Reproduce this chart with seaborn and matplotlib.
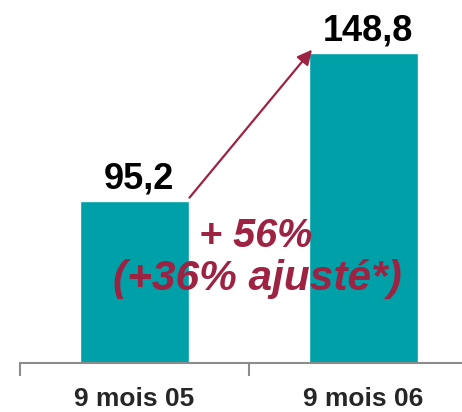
import matplotlib
matplotlib.use("Agg")
import matplotlib.pyplot as plt
import seaborn as sns
import pandas as pd

# chart data
periods = ["9 mois 05", "9 mois 06"]
values = [95.2, 148.8]
value_labels = ["95,2", "148,8"]
growth_main = "+ 56%"
growth_adjusted = "(+36% ajusté*)"

bar_color = "#00A0A8"
accent = "#9E2242"
axis_grey = "#8C8C8C"

sns.set_theme(style="white")
plt.rcParams["font.family"] = ["Liberation Sans", "DejaVu Sans"]

df = pd.DataFrame({"period": periods, "value": values})

fig = plt.figure(figsize=(4.62, 4.12), dpi=100)
ax = fig.add_axes([20 / 462, 49 / 412, 442 / 462, 363 / 412])

sns.barplot(data=df, x="period", y="value", color=bar_color, width=0.48,
            saturation=1, ax=ax)

# value labels on top of bars
for i, (v, lab) in enumerate(zip(values, value_labels)):
    ax.text(i + 0.02, v + 4.4, lab, ha="center", va="baseline",
            fontsize=26, fontweight="bold", color="black")

# growth arrow from the first bar to the second
ax.annotate("", xy=(1 - 0.225, values[1] + 1.2), xytext=(0 + 0.24, values[0] + 1.2),
            arrowprops=dict(arrowstyle="-|>", color=accent, lw=1.6,
                            mutation_scale=22, shrinkA=0, shrinkB=0))

ax.text(0.534, 0.32, growth_main, transform=ax.transAxes, ha="center",
        va="baseline", fontsize=28.5, fontweight="bold", fontstyle="italic",
        color=accent)
ax.text(0.538, 0.201, growth_adjusted, transform=ax.transAxes, ha="center",
        va="baseline", fontsize=30.5, fontweight="bold", fontstyle="italic",
        color=accent)

# axes styling
for side in ["left", "top", "right"]:
    ax.spines[side].set_visible(False)
ax.spines["bottom"].set_color(axis_grey)
ax.spines["bottom"].set_linewidth(1.5)
ax.set_yticks([])
ax.set_xlabel("")
ax.set_ylabel("")
ax.set_xticks([0, 1])
ax.set_xticklabels(periods, fontsize=19, fontweight="bold")
ax.tick_params(axis="x", which="major", length=0, pad=17)
ax.set_xticks([-0.5, 0.5, 1.5], minor=True)
ax.tick_params(axis="x", which="minor", length=9, width=1.5, color=axis_grey,
               direction="out", bottom=True)

# limits last, so the tick settings do not widen them
ax.set_xlim(-0.5, 1.43)
ax.set_ylim(36.5, 168)

fig.savefig("out.png", dpi=100)
